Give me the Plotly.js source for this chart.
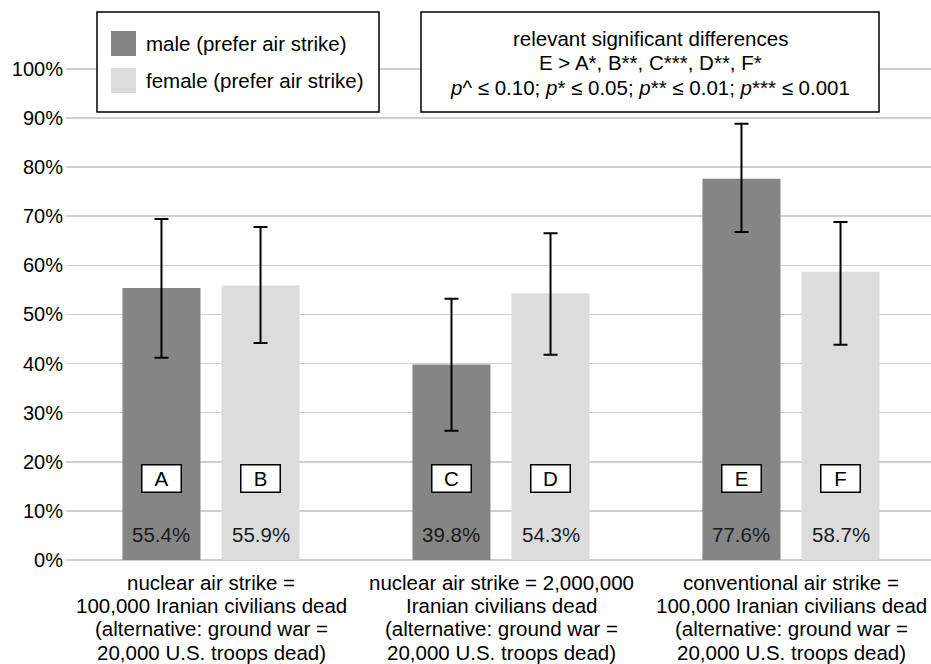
<!DOCTYPE html>
<html>
<head>
<meta charset="utf-8">
<script src="https://cdn.plot.ly/plotly-3.0.1.min.js"></script>
<style>html,body{margin:0;padding:0;background:#fff;}#chart{width:931px;height:664px;}</style>
</head>
<body>
<div id="chart"></div>
<script>
// ---- data ----
const categories = [
  "nuclear air strike =<br>100,000 Iranian civilians dead<br>(alternative: ground war =<br>20,000 U.S. troops dead)",
  "nuclear air strike = 2,000,000<br>Iranian civilians dead<br>(alternative: ground war =<br>20,000 U.S. troops dead)",
  "conventional air strike =<br>100,000 Iranian civilians dead<br>(alternative: ground war =<br>20,000 U.S. troops dead)"
];
const maleValues = [55.4, 39.8, 77.6];
const femaleValues = [55.9, 54.3, 58.7];
const maleUpper = [69.4, 53.2, 88.8];
const maleLower = [41.2, 26.3, 66.8];
const femaleUpper = [67.8, 66.5, 68.8];
const femaleLower = [44.2, 41.8, 43.8];
const maleLetters = ["A", "C", "E"];
const femaleLetters = ["B", "D", "F"];
const seriesNames = ["male (prefer air strike)", "female (prefer air strike)"];
const noteLines = [
  "relevant significant differences",
  "E &gt; A*, B**, C***, D**, F*",
  "<i>p</i>^ ≤ 0.10; <i>p</i>* ≤ 0.05; <i>p</i>** ≤ 0.01; <i>p</i>*** ≤ 0.001"
];

// ---- style ----
const FONT = "Liberation Sans, Arial, Helvetica, sans-serif";
const FS = 20.5;
const maleColor = "#858585";
const femaleColor = "#dcdcdc";
const W = 931, H = 664;
const M = {l: 66, r: 0, t: 59, b: 104};
const BARGAP = 0.317, BARGROUPGAP = 0.212;
const idx = categories.map((_, i) => i);

function errPlus(v, u) { return v.map((x, i) => +(u[i] - x).toFixed(2)); }
function errMinus(v, l) { return v.map((x, i) => +(x - l[i]).toFixed(2)); }

const errStyle = {type: "data", symmetric: false, color: "#000", thickness: 2, width: 7};

const traces = [
  {
    type: "bar", name: seriesNames[0], x: idx, y: maleValues,
    marker: {color: maleColor}, hoverinfo: "y",
    error_y: Object.assign({array: errPlus(maleValues, maleUpper), arrayminus: errMinus(maleValues, maleLower)}, errStyle)
  },
  {
    type: "bar", name: seriesNames[1], x: idx, y: femaleValues,
    marker: {color: femaleColor}, hoverinfo: "y",
    error_y: Object.assign({array: errPlus(femaleValues, femaleUpper), arrayminus: errMinus(femaleValues, femaleLower)}, errStyle)
  }
];

// paper-coordinate helpers from pixel positions
const pw = W - M.l - M.r, ph = H - M.t - M.b;
const px = p => (p - M.l) / pw;
const py = p => (H - M.b - p) / ph;

const slot = (1 - BARGAP) / 2;
const off = slot / 2;

const annotations = [];
const shapes = [];

// in-bar letter boxes and value labels
function addBarLabels(values, letters, dx) {
  values.forEach((v, i) => {
    annotations.push({
      x: i + dx, y: 16.5, xref: "x", yref: "y", text: letters[i], showarrow: false,
      font: {family: FONT, size: FS, color: "#000"},
      bgcolor: "#fff", bordercolor: "#000", borderwidth: 1.5, borderpad: 1,
      width: 36, height: 24
    });
    annotations.push({
      x: i + dx, y: 5.2, xref: "x", yref: "y", text: v.toFixed(1) + "%", showarrow: false,
      font: {family: FONT, size: FS, color: "#1a1a1a"}
    });
  });
}
addBarLabels(maleValues, maleLetters, -off);
addBarLabels(femaleValues, femaleLetters, off);

// category labels under the axis, one line at a time (tight line spacing)
categories.forEach((c, i) => {
  c.split("<br>").forEach((line, k) => {
    annotations.push({
      x: i, xref: "x", yref: "paper", y: py(582 + k * 23.4), yanchor: "middle", xanchor: "center",
      text: line, showarrow: false, font: {family: FONT, size: FS, color: "#000"}
    });
  });
});

// legend box (drawn manually to match large swatches)
shapes.push({type: "rect", xref: "paper", yref: "paper", x0: px(97), x1: px(379), y0: py(112), y1: py(12),
  line: {color: "#000", width: 1.5}, fillcolor: "#fff", layer: "above"});
[[31, 56, maleColor, 43], [68, 93, femaleColor, 80]].forEach((r, k) => {
  shapes.push({type: "rect", xref: "paper", yref: "paper", x0: px(111), x1: px(136), y0: py(r[1]), y1: py(r[0]),
    line: {width: 0}, fillcolor: r[2], layer: "above"});
  annotations.push({xref: "paper", yref: "paper", x: px(144), y: py(r[3]), xanchor: "left", yanchor: "middle",
    text: seriesNames[k], showarrow: false, font: {family: FONT, size: FS, color: "#000"}});
});

// significance note box
shapes.push({type: "rect", xref: "paper", yref: "paper", x0: px(421), x1: px(879), y0: py(112), y1: py(12),
  line: {color: "#000", width: 1.5}, fillcolor: "#fff", layer: "above"});
[38, 62.5, 87].forEach((yy, k) => {
  annotations.push({xref: "paper", yref: "paper", x: px(650), y: py(yy), xanchor: "center", yanchor: "middle",
    text: noteLines[k], showarrow: false, font: {family: FONT, size: FS, color: "#000"}});
});

const layout = {
  width: W, height: H,
  margin: M,
  paper_bgcolor: "#fff", plot_bgcolor: "#fff",
  font: {family: FONT, size: FS, color: "#000"},
  showlegend: false,
  barmode: "group", bargap: BARGAP, bargroupgap: BARGROUPGAP,
  xaxis: {
    type: "linear", range: [-0.5, -0.5 + pw / 290],
    showticklabels: false,
    showgrid: false, zeroline: false, showline: false, ticks: ""
  },
  yaxis: {
    range: [0, 102], dtick: 10, tick0: 0, ticksuffix: "%",
    showgrid: true, gridcolor: "#cfcfcf", gridwidth: 1.5,
    zeroline: true, zerolinecolor: "#cfcfcf", zerolinewidth: 1.5,
    showline: false, ticks: "", ticklabelstandoff: 2,
    tickfont: {family: FONT, size: 20, color: "#000"}
  },
  annotations: annotations,
  shapes: shapes
};

Plotly.newPlot("chart", traces, layout, {displayModeBar: false, staticPlot: true});
</script>
</body>
</html>
